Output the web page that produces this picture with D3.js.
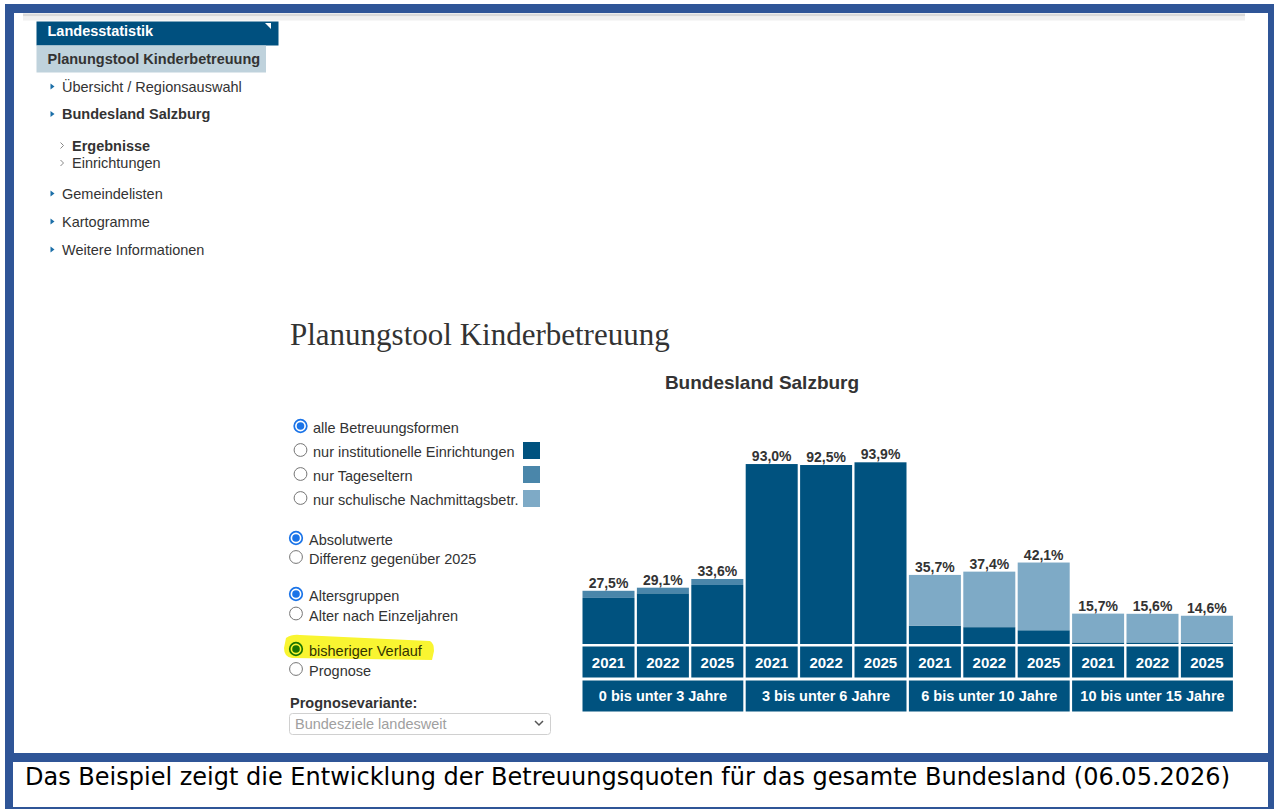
<!DOCTYPE html>
<html><head><meta charset="utf-8">
<script src="https://cdn.jsdelivr.net/npm/d3@7"></script>
<style>body{margin:0;background:#fff}svg{display:block}</style>
</head><body><svg id="c" width="1274" height="809"></svg>
<script>
// ---- data ----
const groups = ["0 bis unter 3 Jahre","3 bis unter 6 Jahre","6 bis unter 10 Jahre","10 bis unter 15 Jahre"];
const years = ["2021","2022","2025"];
const institutionell = [23.8, 26.2, 30.5, 93.0, 92.5, 93.9, 9.5, 8.7, 7.1, 0.8, 0.8, 0.7];
const tageseltern   = [3.7, 2.9, 3.1, 0, 0, 0, 0, 0, 0, 0, 0, 0];
const schulisch     = [0, 0, 0, 0, 0, 0, 26.2, 28.7, 35.0, 14.9, 14.8, 13.9];
const quote         = [27.5, 29.1, 33.6, 93.0, 92.5, 93.9, 35.7, 37.4, 42.1, 15.7, 15.6, 14.6];
const legendLabels = ["alle Betreuungsformen","nur institutionelle Einrichtungen","nur Tageseltern","nur schulische Nachmittagsbetr."];
const navItems = [
  {t:"Übersicht / Regionsauswahl", lvl:1, b:false},
  {t:"Bundesland Salzburg", lvl:1, b:true},
  {t:"Ergebnisse", lvl:2, b:true},
  {t:"Einrichtungen", lvl:2, b:false},
  {t:"Gemeindelisten", lvl:1, b:false},
  {t:"Kartogramme", lvl:1, b:false},
  {t:"Weitere Informationen", lvl:1, b:false}
];
const navBaselines = [91.5, 119, 150.5, 168, 198.5, 226.5, 254.5];

const C = {dark:"#00527f", mid:"#4a86aa", light:"#7eaac6", frame:"#2f5597", text:"#333"};
const SANS = "'Liberation Sans', Arial, sans-serif";
const FS = 14.5;

const svg = d3.select("#c");
svg.append("rect").attr("width",1274).attr("height",809).attr("fill","#fff");

// ---- frame ----
const fr = [[5,4,1269,9],[5,4,9,750],[1268,4,6,805],[5,753,1269,9],[5,753,8,56],[5,807,1269,2]];
svg.selectAll("rect.fr").data(fr).join("rect").attr("class","fr")
  .attr("x",d=>d[0]).attr("y",d=>d[1]).attr("width",d=>d[2]).attr("height",d=>d[3]).attr("fill",C.frame);
svg.append("rect").attr("x",23).attr("y",13.5).attr("width",1222).attr("height",3).attr("fill","#d9d9d9");
svg.append("rect").attr("x",23).attr("y",16.5).attr("width",1222).attr("height",4).attr("fill","#f0f0f0");

// ---- caption ----
svg.append("text").attr("x",25).attr("y",785).attr("font-family","'DejaVu Sans', sans-serif")
  .attr("font-size",24).attr("fill","#000").attr("textLength",1205).attr("lengthAdjust","spacingAndGlyphs")
  .text("Das Beispiel zeigt die Entwicklung der Betreuungsquoten für das gesamte Bundesland (06.05.2026)");

// ---- nav ----
svg.append("rect").attr("x",36.5).attr("y",21.5).attr("width",242).attr("height",24).attr("fill","#00507f");
svg.append("path").attr("d","M265,23 L271,23 L271,29 Z").attr("fill","#fff");
svg.append("text").attr("x",47.5).attr("y",36).attr("font-family",SANS).attr("font-weight","bold")
  .attr("font-size",FS).attr("fill","#fff").text("Landesstatistik");
svg.append("rect").attr("x",36.5).attr("y",45.5).attr("width",229.5).attr("height",27).attr("fill","#bfd2dc");
svg.append("text").attr("x",47.5).attr("y",64).attr("font-family",SANS).attr("font-weight","bold")
  .attr("font-size",FS).attr("fill",C.text).text("Planungstool Kinderbetreuung");
navItems.forEach((n,i)=>{
  const by = navBaselines[i];
  const tx = n.lvl===1 ? 62 : 72;
  if(n.lvl===1){
    svg.append("path").attr("d",`M50.5,${by-8} L54.5,${by-5} L50.5,${by-2} Z`).attr("fill","#1b6fa8");
  } else {
    svg.append("path").attr("d",`M60.5,${by-8} L63.5,${by-5} L60.5,${by-2}`).attr("fill","none")
      .attr("stroke","#888").attr("stroke-width",1);
  }
  svg.append("text").attr("x",tx).attr("y",by).attr("font-family",SANS).attr("font-size",FS)
    .attr("font-weight",n.b?"bold":"normal").attr("fill",C.text).text(n.t);
});

// ---- titles ----
svg.append("text").attr("x",290).attr("y",345).attr("font-family","'Liberation Serif', 'Times New Roman', serif")
  .attr("font-size",31).attr("fill",C.text).text("Planungstool Kinderbetreuung");
svg.append("text").attr("x",762).attr("y",389).attr("text-anchor","middle").attr("font-family",SANS)
  .attr("font-weight","bold").attr("font-size",19).attr("fill",C.text).text("Bundesland Salzburg");

// ---- form controls ----
svg.append("path").attr("d","M286,638 Q292,634 300,635 L430,641 Q434,643 434,651 L432,660 L292,658 Q284,657 284,648 Z")
  .attr("fill","#f9f531");
function radio(cx,cy,checked,col){
  const g = svg.append("g");
  if(checked){
    g.append("circle").attr("cx",cx).attr("cy",cy).attr("r",6.3).attr("fill",col==="#1b7400"?"#f9f531":"#fff")
      .attr("stroke",col).attr("stroke-width",1.7);
    g.append("circle").attr("cx",cx).attr("cy",cy).attr("r",3.8).attr("fill",col);
  } else {
    g.append("circle").attr("cx",cx).attr("cy",cy).attr("r",6.4).attr("fill","#fff")
      .attr("stroke","#767676").attr("stroke-width",1);
  }
}
function label(x,y,t,opts={}){
  svg.append("text").attr("x",x).attr("y",y).attr("font-family",SANS).attr("font-size",FS)
    .attr("font-weight",opts.b?"bold":"normal").attr("fill",opts.c||C.text).text(t);
}
const legendColors = [null, C.dark, C.mid, C.light];
legendLabels.forEach((t,i)=>{
  const cy = 426 + i*24;
  radio(300.5, cy, i===0, "#1b74e8");
  label(313, cy+6.5, t);
  if(legendColors[i]) svg.append("rect").attr("x",523).attr("y",cy-8).attr("width",17).attr("height",17).attr("fill",legendColors[i]);
});
const opts2 = [
  ["Absolutwerte",538,true],["Differenz gegenüber 2025",557,false],
  ["Altersgruppen",594,true],["Alter nach Einzeljahren",613.5,false],
  ["bisheriger Verlauf",649,true],["Prognose",669,false]
];
opts2.forEach(([t,cy,ch],i)=>{
  const hl = i===4;
  radio(296, cy, ch, hl?"#1b7400":"#1b74e8");
  label(309, cy+7, t, {c: hl?"#333300":C.text});
});
label(290, 708, "Prognosevariante:", {b:true});
svg.append("rect").attr("x",289.5).attr("y",713.5).attr("width",261).attr("height",21).attr("rx",3)
  .attr("fill","#fff").attr("stroke","#d0d0d0");
label(295, 729, "Bundesziele landesweit", {c:"#a0a0a0"});
svg.append("path").attr("d","M535,721 L539,725 L543,721").attr("fill","none").attr("stroke","#555").attr("stroke-width",1.5);

// ---- chart ----
const idx = d3.range(quote.length);
const x = d3.scaleBand().domain(idx).range([581.3, 1234.1]).padding(0);
const y = d3.scaleLinear().domain([0,100]).range([644, 450.5]);
const rows = idx.map(i=>({inst:institutionell[i], tage:tageseltern[i], schul:schulisch[i]}));
const stack = d3.stack().keys(["inst","tage","schul"])(rows);
const colors = {inst:C.dark, tage:C.mid, schul:C.light};
const gap = 1.2, bw = x.bandwidth();
const chart = svg.append("g");
stack.forEach(layer=>{
  chart.append("g").attr("fill",colors[layer.key]).selectAll("rect").data(layer).join("rect")
    .attr("x",(d,i)=>x(i)+gap).attr("width",bw-2*gap)
    .attr("y",d=>y(d[1])).attr("height",d=>Math.max(0,y(d[0])-y(d[1])));
});
chart.selectAll("text.val").data(quote).join("text").attr("class","val")
  .attr("x",(d,i)=>x(i)+bw/2).attr("y",d=>y(d)-3).attr("text-anchor","middle")
  .attr("font-family",SANS).attr("font-weight","bold").attr("font-size",14).attr("fill",C.text)
  .text(d=>d3.format(".1f")(d).replace(".",",")+"%");
chart.selectAll("rect.yr").data(idx).join("rect").attr("class","yr")
  .attr("x",i=>x(i)+gap).attr("width",bw-2*gap).attr("y",646.5).attr("height",31).attr("fill",C.dark);
chart.selectAll("text.yr").data(idx).join("text").attr("class","yr")
  .attr("x",i=>x(i)+bw/2).attr("y",667.5).attr("text-anchor","middle")
  .attr("font-family",SANS).attr("font-weight","bold").attr("font-size",15).attr("fill","#fff")
  .text(i=>years[i%years.length]);
chart.selectAll("rect.gr").data(groups).join("rect").attr("class","gr")
  .attr("x",(d,g)=>x(g*3)+gap).attr("width",bw*3-2*gap).attr("y",680.5).attr("height",31).attr("fill",C.dark);
chart.selectAll("text.gr").data(groups).join("text").attr("class","gr")
  .attr("x",(d,g)=>x(g*3)+bw*1.5).attr("y",700.5).attr("text-anchor","middle")
  .attr("font-family",SANS).attr("font-weight","bold").attr("font-size",14.5).attr("fill","#fff")
  .text(d=>d);
</script></body></html>
